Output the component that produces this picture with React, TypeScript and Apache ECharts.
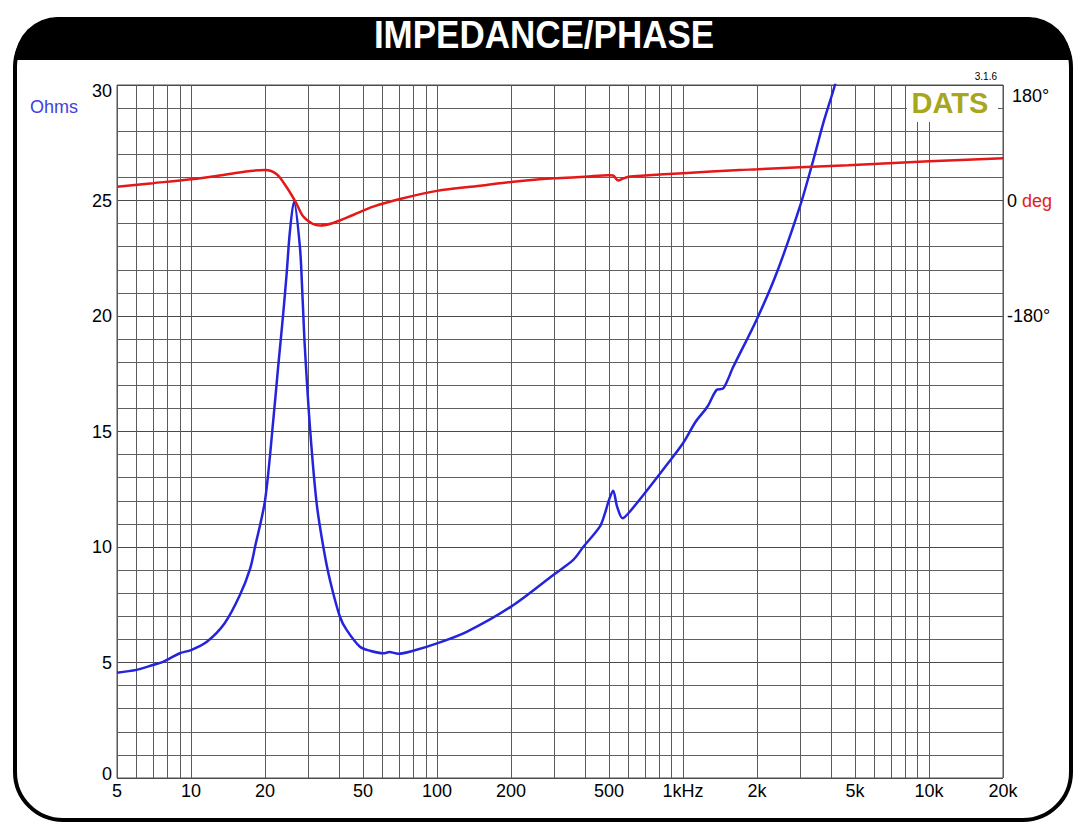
import React, { useEffect, useRef } from "react";
import * as echarts from "echarts";

// Impedance magnitude (Ohms) vs frequency (Hz)
const impFreq = [5, 6, 7, 7.7, 9, 10, 11.6, 13.7, 15.8, 17.4, 18.2, 20, 21.6, 22.6, 23.7, 24.5, 25.2, 26.2, 27.7, 28.4, 29, 30.5, 32.4, 34.5, 36.7, 40.3, 42.9, 48.6, 53.4, 60.5, 64, 69.6, 80, 100, 132, 200, 297, 358, 393, 459, 482, 500, 520, 540, 568, 600, 690, 858, 1000, 1126, 1256, 1370, 1459, 1601, 1990, 2401, 2986, 3387, 3716, 4147, 4500];
const impOhms = [4.56, 4.68, 4.89, 5.03, 5.4, 5.54, 5.9, 6.7, 7.92, 9.08, 10.0, 12.03, 15.5, 17.8, 20.1, 21.9, 23.6, 24.95, 23.0, 20.8, 18.7, 15.06, 11.9, 10.0, 8.57, 6.98, 6.41, 5.68, 5.51, 5.4, 5.45, 5.38, 5.51, 5.83, 6.33, 7.42, 8.79, 9.44, 10.0, 10.88, 11.47, 12.03, 12.44, 11.74, 11.24, 11.46, 12.25, 13.55, 14.49, 15.42, 16.07, 16.8, 16.87, 17.8, 19.83, 21.85, 24.73, 26.75, 28.34, 30.0, 31.5];

// Phase (degrees) vs frequency (Hz)
const phaseFreq = [5, 7, 10, 14.8, 17.4, 20, 22.3, 24.4, 26.6, 28.6, 31.3, 33.5, 37.8, 45.6, 55, 70.7, 100, 150, 200, 300, 400, 500, 520, 545, 570, 600, 700, 1000, 1700, 2000, 3000, 4700, 10000, 20000];
const phaseDeg = [21.5, 27, 33, 42, 46, 47.5, 41, 21.5, -2, -25, -36.6, -39, -35, -22.6, -9.6, 2.3, 15, 23, 29, 34.6, 37, 39.5, 39, 31, 34, 37, 39, 42.5, 47.5, 48.6, 52, 55, 61, 66];

// Axis labels
const xLabelValues = [5, 10, 20, 50, 100, 200, 500, 1000, 2000, 5000, 10000, 20000];
const xLabelTexts = ["5", "10", "20", "50", "100", "200", "500", "1kHz", "2k", "5k", "10k", "20k"];
const decades = [1, 10, 100, 1000, 10000];
const mantissas = [1, 2, 3, 4, 5, 6, 7, 8, 9];
const gridFreqs: number[] = [];
decades.forEach((d) => mantissas.forEach((m) => {
  const v = d * m;
  if (v >= 5 && v <= 20000) gridFreqs.push(v);
}));

const FONT = "'Liberation Sans', Arial, sans-serif";

export default function App() {
  const ref = useRef<HTMLDivElement>(null);
  useEffect(() => {
    if (!ref.current) return;
    const chart = echarts.init(ref.current, null, { renderer: "svg" });
    const option: any = {
      animation: false,
      backgroundColor: "#fff",
      textStyle: { fontFamily: FONT },
      grid: {
        left: 117, right: 85, top: 85, bottom: 50,
        show: true, borderColor: "#505050", borderWidth: 1,
      },
      xAxis: {
        type: "log", logBase: 10, min: 5, max: 20000,
        axisLine: { show: false },
        axisTick: { show: false, customValues: gridFreqs },
        splitLine: { show: true, lineStyle: { color: "#5a5a5a", width: 1 } },
        axisLabel: {
          customValues: xLabelValues,
          formatter: (v: number) => {
            const i = xLabelValues.findIndex((x) => Math.abs(x - v) < 1e-6 * x);
            return i >= 0 ? xLabelTexts[i] : "";
          },
          fontSize: 18, color: "#000", margin: 4, fontFamily: FONT,
        },
      },
      yAxis: [
        {
          type: "value", min: 0, max: 30, interval: 5, position: "left",
          axisLine: { show: false }, axisTick: { show: false },
          splitLine: { show: true, lineStyle: { color: "#4a4a4a", width: 1 } },
          minorTick: { show: false, splitNumber: 5 },
          minorSplitLine: { show: true, lineStyle: { color: "#606060", width: 1 } },
          axisLabel: {
            fontSize: 18, color: "#000", margin: 5, fontFamily: FONT,
            formatter: (v: number) => {
              if (v === 30) return "{t|30}";
              if (v === 0) return "{b|0}";
              return String(v);
            },
            rich: {
              t: { fontSize: 18, color: "#000", padding: [12, 0, 0, 0], fontFamily: FONT },
              b: { fontSize: 18, color: "#000", padding: [0, 0, 9, 0], fontFamily: FONT },
            },
          },
        },
        {
          type: "value", min: -900, max: 180, interval: 180, position: "right",
          axisLine: { show: false }, axisTick: { show: false },
          splitLine: { show: false },
          axisLabel: {
            margin: 4, fontSize: 18, color: "#000", fontFamily: FONT,
            formatter: (v: number) => {
              if (v === 180) return "{t|180°}";
              if (v === 0) return "0 {r|deg}";
              if (v === -180) return "-180°";
              return "";
            },
            rich: {
              t: { fontSize: 18, color: "#000", padding: [22, 0, 0, 5], fontFamily: FONT },
              r: { fontSize: 18, color: "#e02020", fontFamily: FONT },
            },
          },
        },
      ],
      series: [
        {
          name: "Impedance", type: "line", yAxisIndex: 0, z: 3,
          data: impFreq.map((f, i) => [f, impOhms[i]]),
          showSymbol: false, smooth: 0.3, clip: true,
          lineStyle: { color: "#2424dc", width: 2.5 },
        },
        {
          name: "Phase", type: "line", yAxisIndex: 1, z: 4,
          data: phaseFreq.map((f, i) => [f, phaseDeg[i]]),
          showSymbol: false, smooth: 0.3, clip: true,
          lineStyle: { color: "#e41818", width: 2.5 },
        },
      ],
      graphic: [
        {
          type: "rect", z: 100,
          shape: { x: 15, y: 19, width: 1056, height: 801, r: 48 },
          style: { fill: "none", stroke: "#000", lineWidth: 4 },
        },
        {
          type: "rect", z: 100,
          shape: { x: 15, y: 17, width: 1056, height: 43, r: [46, 46, 0, 0] },
          style: { fill: "#000" },
        },
        {
          type: "text", z: 101, x: 544, y: 39, scaleY: 1.1, originX: 544, originY: 39,
          style: {
            text: "IMPEDANCE/PHASE", fill: "#fff", font: `bold 35px ${FONT}`,
            align: "center", verticalAlign: "middle",
          },
        },
        {
          type: "text", z: 101, x: 30, y: 107,
          style: { text: "Ohms", fill: "#4040e0", font: `18px ${FONT}`, align: "left", verticalAlign: "middle" },
        },
        {
          type: "rect", z: 50,
          shape: { x: 907, y: 86, width: 91, height: 36 },
          style: { fill: "#fff" },
        },
        {
          type: "text", z: 51, x: 950, y: 103,
          style: { text: "DATS", fill: "#a8a61c", font: `bold 29px ${FONT}`, align: "center", verticalAlign: "middle" },
        },
        {
          type: "text", z: 51, x: 997, y: 76,
          style: { text: "3.1.6", fill: "#000", font: `10px ${FONT}`, align: "right", verticalAlign: "middle" },
        },
      ],
    };
    chart.setOption(option);
    return () => chart.dispose();
  }, []);
  return (
    <div
      ref={ref}
      style={{ position: "fixed", left: 0, top: 0, width: 1088, height: 828, background: "#fff" }}
    />
  );
}
